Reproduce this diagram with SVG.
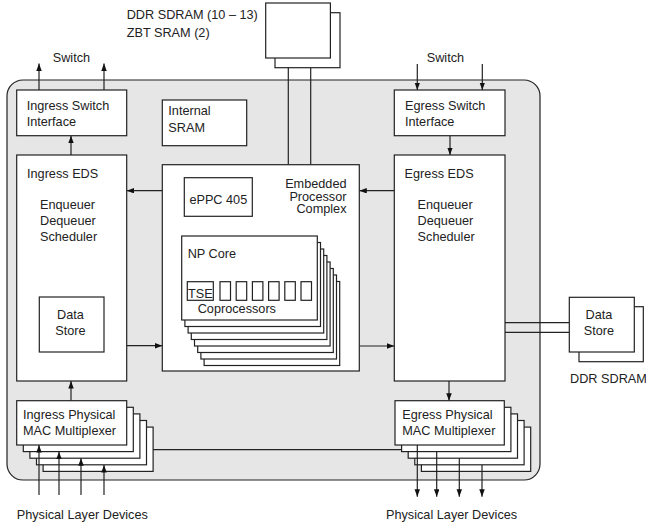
<svg xmlns="http://www.w3.org/2000/svg" width="646" height="525" viewBox="0 0 646 525">
<defs>
<marker id="ah" markerUnits="userSpaceOnUse" markerWidth="8" markerHeight="6" refX="7.5" refY="2.75" orient="auto">
<path d="M0,0 L7.5,2.75 L0,5.5 z" fill="#111"/>
</marker>
</defs>
<style>
.b{fill:#fff;stroke:#222;stroke-width:1.2}
.l{fill:none;stroke:#222;stroke-width:1.2}
.a{fill:none;stroke:#222;stroke-width:1.2;marker-end:url(#ah)}
text{font-family:"Liberation Sans",Arial,sans-serif;font-size:12.7px;fill:#222}
.m{text-anchor:middle}
.r{text-anchor:end}
</style>
<rect width="646" height="525" fill="#fff"/>
<g id="chip"><rect x="7" y="80" width="533" height="400" rx="16" ry="16" fill="#e6e6e6" stroke="#222" stroke-width="1.2"/></g>

<g id="connectors">
<line class="l" x1="288.3" y1="58" x2="288.3" y2="164.7"/>
<line class="l" x1="310.7" y1="67.7" x2="310.7" y2="164.7"/>
<line class="a" x1="39" y1="90" x2="39" y2="63.5"/>
<line class="a" x1="104" y1="90" x2="104" y2="63.5"/>
<line class="a" x1="417.3" y1="64" x2="417.3" y2="90"/>
<line class="a" x1="482.3" y1="64" x2="482.3" y2="90"/>
<line class="a" x1="71" y1="155" x2="71" y2="135.7"/>
<line class="a" x1="450" y1="135.7" x2="450" y2="155"/>
<line class="a" x1="162.3" y1="190.7" x2="126.7" y2="190.7"/>
<line class="a" x1="126.7" y1="345.7" x2="162.3" y2="345.7"/>
<line class="a" x1="394.3" y1="190.7" x2="359.3" y2="190.7"/>
<line class="a" x1="359.3" y1="346" x2="394.3" y2="346"/>
<line class="a" x1="71" y1="400.7" x2="71" y2="381"/>
<line class="a" x1="449" y1="381" x2="449" y2="400.7"/>
<line class="l" x1="505" y1="322.7" x2="569.3" y2="322.7"/>
<line class="l" x1="505" y1="332.3" x2="569.3" y2="332.3"/>
<line class="l" x1="153" y1="449.7" x2="402" y2="449.7"/>
</g>

<g id="ddr-sdram">
<rect class="b" x="275" y="12.7" width="65" height="55"/>
<rect class="b" x="265.7" y="3" width="64.7" height="55"/>
<text x="126.7" y="19">DDR SDRAM (10 – 13)</text>
<text x="126.7" y="36.7">ZBT SRAM (2)</text>
</g>

<g id="switch-labels">
<text x="52.7" y="61.7">Switch</text>
<text x="426.7" y="61.7">Switch</text>
</g>

<g id="ingress-switch-interface">
<rect class="b" x="16.7" y="90" width="110" height="45.7"/>
<text x="26.7" y="110">Ingress Switch</text>
<text x="26.7" y="125.7">Interface</text>
</g>

<g id="internal-sram">
<rect class="b" x="162.3" y="100" width="84.4" height="45.7"/>
<text x="168.3" y="115.3">Internal</text>
<text x="168.3" y="132">SRAM</text>
</g>

<g id="egress-switch-interface">
<rect class="b" x="394.3" y="90" width="110.7" height="45.7"/>
<text x="405" y="110">Egress Switch</text>
<text x="405" y="125.7">Interface</text>
</g>

<g id="ingress-eds">
<rect class="b" x="16.7" y="155" width="110" height="226"/>
<text x="27" y="177.7">Ingress EDS</text>
<text x="40" y="209">Enqueuer</text>
<text x="40" y="225">Dequeuer</text>
<text x="40" y="241">Scheduler</text>
<rect class="b" x="39.3" y="297" width="64.7" height="55"/>
<text class="m" x="70.5" y="318.5">Data</text>
<text class="m" x="70.5" y="334.5">Store</text>
</g>

<g id="egress-eds">
<rect class="b" x="394.3" y="155" width="110.7" height="226"/>
<text x="404.6" y="177.7">Egress EDS</text>
<text x="417.6" y="209">Enqueuer</text>
<text x="417.6" y="225">Dequeuer</text>
<text x="417.6" y="241">Scheduler</text>
</g>

<g id="embedded-processor-complex">
<rect class="b" x="162.3" y="164.7" width="197" height="206.3"/>
<text class="r" x="346.5" y="188">Embedded</text>
<text class="r" x="346.5" y="200.5">Processor</text>
<text class="r" x="346.5" y="213">Complex</text>
<rect class="b" x="184.3" y="177.7" width="68" height="38.6"/>
<text class="m" x="218.3" y="203.5">ePPC 405</text>
</g>

<g id="np-core">
<rect class="b" x="204.1" y="281.5" width="135.6" height="84"/>
<rect class="b" x="200.9" y="275" width="135.6" height="84"/>
<rect class="b" x="197.7" y="268.5" width="135.6" height="84"/>
<rect class="b" x="194.5" y="262" width="135.6" height="84"/>
<rect class="b" x="191.3" y="255.5" width="135.6" height="84"/>
<rect class="b" x="188.1" y="249" width="135.6" height="84"/>
<rect class="b" x="184.9" y="242.5" width="135.6" height="84"/>
<rect class="b" x="181.7" y="236" width="135.6" height="84"/>
<text x="187.7" y="258">NP Core</text>
<rect class="b" x="187.3" y="281.7" width="26" height="18.6"/>
<text x="188" y="297.5">TSE</text>
<rect class="b" x="220" y="281.7" width="10.5" height="18.6"/>
<rect class="b" x="236.2" y="281.7" width="10.5" height="18.6"/>
<rect class="b" x="252.4" y="281.7" width="10.5" height="18.6"/>
<rect class="b" x="268.6" y="281.7" width="10.5" height="18.6"/>
<rect class="b" x="284.8" y="281.7" width="10.5" height="18.6"/>
<rect class="b" x="301" y="281.7" width="10.5" height="18.6"/>
<text x="197.7" y="313">Coprocessors</text>
</g>

<g id="external-data-store">
<rect class="b" x="579" y="306.7" width="64.3" height="55"/>
<rect class="b" x="569.3" y="297.3" width="65" height="54.7"/>
<text class="m" x="599" y="319">Data</text>
<text class="m" x="599" y="335">Store</text>
<text x="570" y="383.3">DDR SDRAM</text>
</g>

<g id="ingress-mac">
<rect class="b" x="43.1" y="427.1" width="110" height="44.3"/>
<rect class="b" x="36.5" y="420.5" width="110" height="44.3"/>
<rect class="b" x="29.9" y="413.9" width="110" height="44.3"/>
<rect class="b" x="23.3" y="407.3" width="110" height="44.3"/>
<rect class="b" x="16.7" y="400.7" width="110" height="44.3"/>
<text x="23" y="419">Ingress Physical</text>
<text x="23" y="435">MAC Multiplexer</text>
</g>

<g id="egress-mac">
<rect class="b" x="421.4" y="427.1" width="109.3" height="44.3"/>
<rect class="b" x="414.8" y="420.5" width="109.3" height="44.3"/>
<rect class="b" x="408.2" y="413.9" width="109.3" height="44.3"/>
<rect class="b" x="401.6" y="407.3" width="109.3" height="44.3"/>
<rect class="b" x="395" y="400.7" width="109.3" height="44.3"/>
<text x="402.3" y="419">Egress Physical</text>
<text x="402.3" y="435">MAC Multiplexer</text>
</g>

<g id="physical-connectors">
<line class="a" x1="39" y1="495" x2="39" y2="445"/>
<line class="a" x1="59" y1="495" x2="59" y2="451.7"/>
<line class="a" x1="81" y1="495" x2="81" y2="458.3"/>
<line class="a" x1="104" y1="495" x2="104" y2="465"/>
<line class="a" x1="417.3" y1="445" x2="417.3" y2="496.7"/>
<line class="a" x1="436.7" y1="451.7" x2="436.7" y2="496.7"/>
<line class="a" x1="459.3" y1="458.3" x2="459.3" y2="496.7"/>
<line class="a" x1="482" y1="465" x2="482" y2="496.7"/>
</g>

<g id="physical-layer-labels">
<text x="16.7" y="519">Physical Layer Devices</text>
<text x="386" y="519">Physical Layer Devices</text>
</g>
</svg>
